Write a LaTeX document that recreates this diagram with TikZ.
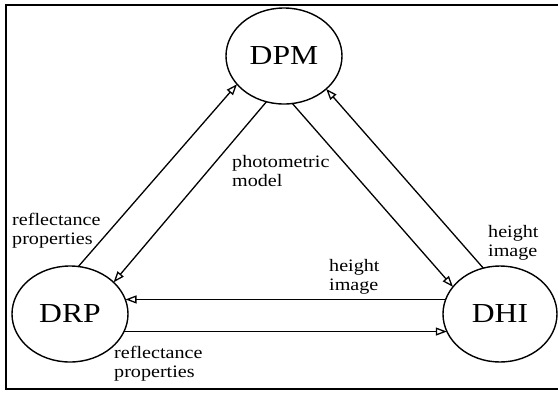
\documentclass[tikz,border=0pt]{standalone}
\usepackage{fontspec}
\setmainfont{Liberation Serif}[FakeStretch=1.15]
\usetikzlibrary{arrows.meta,shapes.geometric}
\tikzset{
  statenode/.style={draw, ellipse, line width=1.4pt, minimum width=116pt, minimum height=96pt, inner sep=0pt, outer sep=0pt, font=\fontsize{27.5}{30}\selectfont},
  flow/.style={line width=1.3pt, -{Triangle[open, length=11pt, width=8pt, line width=1.3pt]}},
  lbl/.style={anchor=west, align=left, inner sep=0pt, font=\fontsize{17.5}{19}\selectfont},
  frameline/.style={line width=2.8pt}
}
\begin{document}
\begin{tikzpicture}[x=1pt, y=-1pt]
\useasboundingbox (0,0) rectangle (558,392);
\draw[frameline] (558,5) -- (6,5) -- (6,389) -- (558,389);
\node[statenode] (dpm) at (284,56) {DPM};
\node[statenode] (drp) at (70,314) {DRP};
\node[statenode, minimum width=114pt] (dhi) at (500,314) {DHI};
% DRP <-> DPM
\draw[flow] (drp.80.7) -- (dpm.211.5);
\draw[flow] (dpm.249.7) -- (drp.36.7);
% DPM <-> DHI
\draw[flow] (dpm.280.7) -- (dhi.150.6);
\draw[flow] (dhi.110.3) -- (dpm.322);
% DRP <-> DHI
\draw[flow] (dhi.165.6) -- (dhi.165.6 -| drp.14.2);
\draw[flow] (drp.-18.5) -- (drp.-18.5 -| dhi.198.8);
% labels
\node[lbl] (l1) at (12,231) {reflectance\\properties};
\node[lbl] (l2) at (232,171) {photometric\\model};
\node[lbl] (l3) at (329,277) {height\\image};
\node[lbl] (l4) at (488,243) {height\\image};
\node[lbl] (l5) at (114,364) {reflectance\\properties};
\end{tikzpicture}
\end{document}
